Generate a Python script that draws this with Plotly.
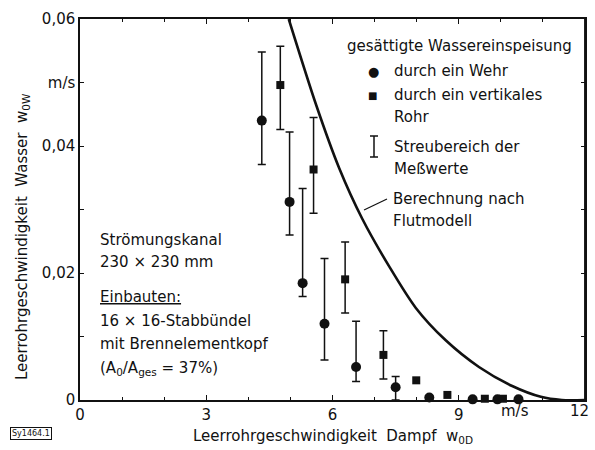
import plotly.graph_objects as go

# ---------------- data ----------------
wehr_x = [4.32, 4.98, 5.29, 5.81, 6.56, 7.50, 8.30, 9.33, 9.92, 10.42]
wehr_y = [0.0440, 0.0312, 0.0184, 0.0120, 0.0052, 0.0020, 0.0004, 0.0001, 0.0001, 0.0001]
wehr_hi = [0.0548, 0.0422, 0.0333, 0.0223, 0.0124, 0.0037, None, None, None, None]
wehr_lo = [0.0371, 0.0260, 0.0163, 0.0063, 0.0029, 0.0000, None, None, None, None]

rohr_x = [4.76, 5.55, 6.30, 7.21, 7.99, 8.73, 9.62, 10.05]
rohr_y = [0.0496, 0.0363, 0.0190, 0.0071, 0.0031, 0.0008, 0.0002, 0.0002]
rohr_hi = [0.0557, 0.0445, 0.0249, 0.0109, None, None, None, None]
rohr_lo = [0.0426, 0.0294, 0.0137, 0.0033, None, None, None, None]

flut_x = [4.96, 5.61, 6.16, 6.71, 7.35, 7.98, 8.69, 9.48, 10.27, 10.95, 11.45, 12.0]
flut_y = [0.0600, 0.0465, 0.0365, 0.0285, 0.0210, 0.0145, 0.0094, 0.0052, 0.0022, 0.0005, 0.0, 0.0]

x_range = [0, 12]
y_range = [0, 0.06]
x_tickvals = [0, 3, 6, 9]
x_ticktext = ["0", "3", "6", "9"]
y_tickvals = [0, 0.02, 0.04, 0.05, 0.06]
y_ticktext = ["0", "0,02", "0,04", "m/s", "0,06"]

FONT = "DejaVu Sans"
BLACK = "#111111"

fig = go.Figure()


def err_trace(xs, ys, his, los):
    idx = [i for i in range(len(xs)) if his[i] is not None]
    return go.Scatter(
        x=[xs[i] for i in idx], y=[ys[i] for i in idx], mode="markers",
        marker=dict(size=1, color="rgba(0,0,0,0)"),
        error_y=dict(type="data", symmetric=False,
                     array=[his[i] - ys[i] for i in idx],
                     arrayminus=[ys[i] - los[i] for i in idx],
                     width=4, thickness=1.5, color=BLACK),
        showlegend=False, hoverinfo="skip", cliponaxis=False)


fig.add_trace(err_trace(wehr_x, wehr_y, wehr_hi, wehr_lo))
fig.add_trace(err_trace(rohr_x, rohr_y, rohr_hi, rohr_lo))

fig.add_trace(go.Scatter(x=flut_x, y=flut_y, mode="lines",
                         line=dict(color=BLACK, width=2.6, shape="spline", smoothing=0.8),
                         showlegend=False, cliponaxis=True))

fig.add_trace(go.Scatter(x=wehr_x, y=wehr_y, mode="markers",
                         marker=dict(symbol="circle", size=10, color=BLACK),
                         showlegend=False, cliponaxis=False))
fig.add_trace(go.Scatter(x=rohr_x, y=rohr_y, mode="markers",
                         marker=dict(symbol="square", size=8, color=BLACK),
                         showlegend=False, cliponaxis=False))

# right frame edge, drawn along the axis maximum
fig.add_trace(go.Scatter(x=[x_range[1], x_range[1]], y=y_range, mode="lines",
                         line=dict(color=BLACK, width=1.5), showlegend=False,
                         hoverinfo="skip", cliponaxis=False))

# plot area in page pixels: x 80..585, y 19..400
L, R, T, B = 80, 585, 19, 400


def px(x):
    return (x - L) / float(R - L)


def py(y):
    return (B - y) / float(B - T)


ann = []


def text(x, y, s, size=15, xanchor="left", angle=0):
    ann.append(dict(x=px(x), y=py(y), xref="paper", yref="paper", text=s,
                    showarrow=False, xanchor=xanchor, yanchor="middle",
                    textangle=angle, font=dict(family=FONT, size=size, color=BLACK)))


# legend block
text(345, 46, "gesättigte Wassereinspeisung")
text(373, 71, "●", size=13, xanchor="center")
text(392, 71, "durch ein Wehr")
text(372, 95, "■", size=10, xanchor="center")
text(392, 95, "durch ein vertikales")
text(392, 117, "Rohr")
text(392, 147, "Streubereich der")
text(392, 169, "Meßwerte")
text(391, 199, "Berechnung nach")
text(391, 221, "Flutmodell")

# left text block
text(98, 240, "Strömungskanal")
text(98, 262, "230 × 230 mm")
text(98, 297, "<u>Einbauten:</u>")
text(98, 321, "16 × 16-Stabbündel")
text(98, 344, "mit Brennelementkopf")
text(98, 368, "(A<sub>0</sub>/A<sub>ges</sub> = 37%)")

# axis titles
text(22, 237, "Leerrohrgeschwindigkeit  Wasser  w<sub>0W</sub>", xanchor="center", angle=-90)
text(333, 437, "Leerrohrgeschwindigkeit  Dampf  w<sub>0D</sub>", xanchor="center")
text(515, 411, "m/s", xanchor="center")
text(579, 411, "12", xanchor="center")

# figure id box
ann.append(dict(x=px(10), y=py(434), xref="paper", yref="paper", text="Sy1464.1",
                showarrow=False, xanchor="left", yanchor="middle",
                font=dict(family=FONT, size=8, color=BLACK),
                bordercolor=BLACK, borderwidth=1, borderpad=1))

shapes = [
    dict(type="line", xref="paper", yref="paper", x0=1, x1=1, y0=0, y1=1,
         line=dict(color=BLACK, width=1.5), layer="above"),
    # legend error-bar symbol
    dict(type="line", xref="paper", yref="paper", x0=px(374), x1=px(374), y0=py(136), y1=py(157),
         line=dict(color=BLACK, width=1.5)),
    dict(type="line", xref="paper", yref="paper", x0=px(370), x1=px(378), y0=py(136), y1=py(136),
         line=dict(color=BLACK, width=1.5)),
    dict(type="line", xref="paper", yref="paper", x0=px(370), x1=px(378), y0=py(157), y1=py(157),
         line=dict(color=BLACK, width=1.5)),
    # leader line to calculated curve
    dict(type="line", xref="paper", yref="paper", x0=px(364), x1=px(387), y0=py(210), y1=py(199),
         line=dict(color=BLACK, width=1.2)),
]

fig.update_layout(
    width=595, height=450,
    margin=dict(l=L, r=595 - R, t=T, b=450 - B, autoexpand=False),
    paper_bgcolor="white", plot_bgcolor="white",
    font=dict(family=FONT, size=15, color=BLACK),
    annotations=ann, shapes=shapes, showlegend=False,
)
fig.update_xaxes(range=x_range, tickmode="array", tickvals=x_tickvals, ticktext=x_ticktext,
                 ticks="inside", ticklen=5, tickwidth=1, tickcolor=BLACK,
                 minor=dict(dtick=1, tick0=0, ticks="inside", ticklen=3, tickcolor=BLACK),
                 showline=True, linecolor=BLACK, linewidth=1.5, mirror="ticks",
                 showgrid=False, zeroline=False, automargin=False,
                 tickfont=dict(family=FONT, size=15, color=BLACK))
fig.update_yaxes(range=y_range, tickmode="array", tickvals=y_tickvals, ticktext=y_ticktext,
                 ticks="inside", ticklen=4, tickwidth=1, tickcolor=BLACK,
                 minor=dict(dtick=0.01, tick0=0, ticks="inside", ticklen=4, tickcolor=BLACK),
                 showline=True, linecolor=BLACK, linewidth=1.5, mirror="ticks",
                 showgrid=False, zeroline=False, automargin=False,
                 tickfont=dict(family=FONT, size=15, color=BLACK))

fig.write_html("out.html", config={"displayModeBar": False},
               post_script="document.documentElement.style.overflow='hidden';"
                           "document.body.style.margin='0';document.body.style.overflow='hidden';")
